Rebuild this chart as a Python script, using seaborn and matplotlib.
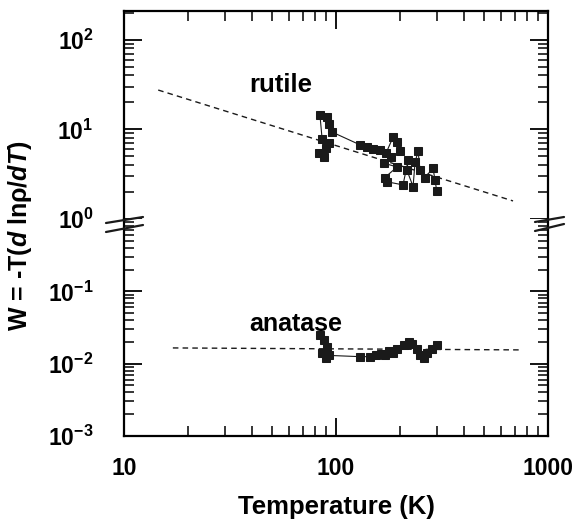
import numpy as np
import pandas as pd
import matplotlib
matplotlib.use("Agg")
import matplotlib.pyplot as plt
import matplotlib.ticker as mticker
from matplotlib.lines import Line2D
import seaborn as sns

# rutile data (T in K, W), in measurement order
rutile_T = [88, 83, 90, 93, 86, 84, 91, 93, 96, 130, 140, 149, 161, 172,
            186, 194, 200, 182, 168, 194, 170, 174, 207, 219, 216, 231,
            236, 244, 249, 263, 287, 293, 299]
rutile_W = [4.9, 5.4, 6.2, 7.0, 7.8, 14.4, 13.7, 11.5, 9.3, 6.7, 6.35, 6.0,
            5.9, 5.4, 8.2, 7.2, 5.7, 4.9, 4.2, 3.8, 2.9, 2.6, 2.4, 4.5, 3.5,
            2.3, 4.3, 5.7, 3.5, 2.9, 3.7, 2.7, 2.05]

# anatase data
anatase_T = [84, 88, 91, 86, 90, 93, 130, 145, 155, 163, 170, 178, 185, 195,
             210, 220, 228, 240, 250, 260, 270, 285, 300]
anatase_W = [0.025, 0.021, 0.017, 0.014, 0.012, 0.013, 0.0125, 0.0125, 0.013,
             0.0135, 0.013, 0.015, 0.014, 0.016, 0.018, 0.020, 0.019, 0.016,
             0.013, 0.012, 0.014, 0.016, 0.018]

# dashed fits
rutile_fit_T = [14.5, 684]
rutile_fit_W = [27.4, 1.59]
anatase_fit_T = [17.0, 738]
anatase_fit_W = [0.0165, 0.0155]

sns.set_theme(style="ticks")
plt.rcParams['font.family'] = ['Liberation Sans', 'DejaVu Sans']
plt.rcParams['font.weight'] = 'bold'
plt.rcParams['mathtext.fontset'] = 'custom'
plt.rcParams['mathtext.rm'] = 'Liberation Sans:bold'
plt.rcParams['mathtext.bf'] = 'Liberation Sans:bold'
plt.rcParams['mathtext.it'] = 'Liberation Sans:italic:bold'
plt.rcParams['mathtext.default'] = 'rm'
for key in ['text.color', 'axes.labelcolor', 'xtick.color', 'ytick.color',
            'axes.edgecolor']:
    plt.rcParams[key] = 'black'

W, H = 572, 529
fig = plt.figure(figsize=(W / 100, H / 100), dpi=100)
left, right = 124 / W, 548 / W
y_top, y_mid, y_bot = 1 - 11 / H, 1 - 219 / H, 1 - 436 / H
ax_top = fig.add_axes([left, y_mid, right - left, y_top - y_mid])
ax_bot = fig.add_axes([left, y_bot, right - left, y_mid - y_bot])

rut = pd.DataFrame({"T": rutile_T, "W": rutile_W})
ana = pd.DataFrame({"T": anatase_T, "W": anatase_W})

for ax, df, fT, fW in [(ax_top, rut, rutile_fit_T, rutile_fit_W),
                       (ax_bot, ana, anatase_fit_T, anatase_fit_W)]:
    sns.lineplot(x=fT, y=fW, ax=ax, color='k', lw=1.0, linestyle=(0, (4, 3)))
    sns.lineplot(data=df, x="T", y="W", ax=ax, sort=False, estimator=None,
                 color='k', lw=0.8, marker='s', markersize=6,
                 markeredgecolor='k', markerfacecolor='k')
    ax.set_xscale('log')
    ax.set_yscale('log')
    ax.set_xlim(10, 1000)
    ax.set_xlabel('')
    ax.set_ylabel('')
    for s in ax.spines.values():
        s.set_linewidth(1.6)
    ax.yaxis.set_minor_locator(mticker.LogLocator(subs=np.arange(2, 10)))
    ax.xaxis.set_minor_locator(mticker.LogLocator(subs=np.arange(2, 10)))
    ax.yaxis.set_minor_formatter(mticker.NullFormatter())
    ax.xaxis.set_minor_formatter(mticker.NullFormatter())
    ax.tick_params(which='major', direction='in', length=13, width=1.3,
                   left=True, right=True, labelsize=16.5)
    ax.tick_params(which='minor', direction='in', length=7, width=1.1,
                   left=True, right=True)
    ax.tick_params(axis='y', pad=22)
    ax.tick_params(axis='x', pad=15)

ax_top.set_ylim(1, 10 ** 2.319)
ax_top.set_yticks([1, 10, 100])
ax_top.spines['bottom'].set_visible(False)
ax_top.tick_params(axis='x', which='both', bottom=False, top=True,
                   labelbottom=False)

ax_bot.set_ylim(1e-3, 1)
ax_bot.set_yticks([1e-3, 1e-2, 1e-1])
ax_bot.spines['top'].set_visible(False)
ax_bot.tick_params(axis='x', which='both', bottom=True, top=False)
ax_bot.set_xticks([10, 100, 1000])
ax_bot.xaxis.set_major_formatter(mticker.FuncFormatter(lambda v, p: f"{v:g}"))

ax_top.text(39, 31, "rutile", fontsize=18.5, fontweight='bold', va='center')
ax_bot.text(39, 0.035, "anatase", fontsize=18, fontweight='bold', va='center')

ax_bot.set_xlabel("Temperature (K)", fontsize=18.5, fontweight='bold',
                  labelpad=11)
fig.text(20 / W, 1 - 236 / H,
         r'W = -T($\mathit{d}$ ln' + 'ρ' + r'/$\mathit{dT}$)',
         rotation=90, fontsize=18, fontweight='bold', ha='center', va='center')

# axis break marks
for (x0, y0, x1, y1) in [(106, 223, 143, 217), (106, 232, 143, 225),
                         (535, 222, 564, 217), (535, 231, 564, 224)]:
    fig.add_artist(Line2D([x0 / W, x1 / W], [1 - y0 / H, 1 - y1 / H],
                          transform=fig.transFigure, color='k', lw=1.6))

fig.savefig("out.png", dpi=100)
